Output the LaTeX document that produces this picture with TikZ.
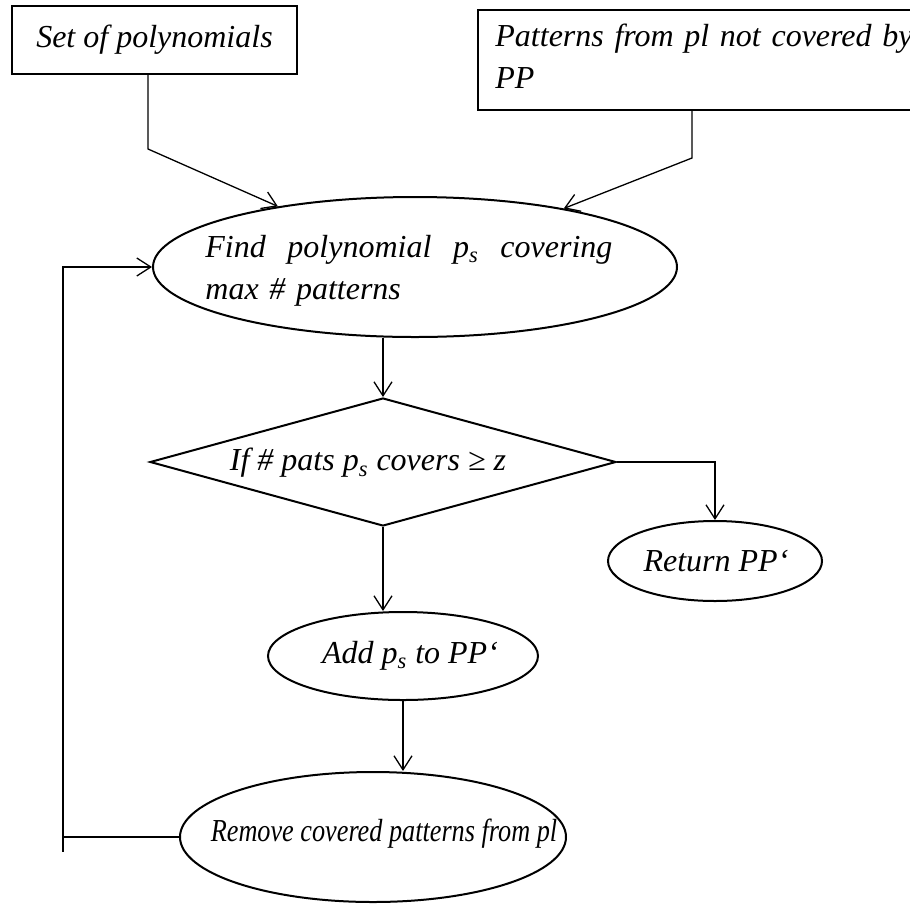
\documentclass[tikz,border=0pt]{standalone}
\usepackage{graphicx}
\usepackage{fontspec}
\setmainfont{Liberation Serif}
\usetikzlibrary{arrows.meta,shapes.geometric}
\begin{document}
\begin{tikzpicture}[x=0.5pt,y=-0.5pt,
  txt/.style={font=\itshape\fontsize{16}{21}\selectfont, inner sep=0pt},
  boxsh/.style={draw, line width=1pt, rectangle, inner sep=0pt},
  ellsh/.style={draw, line width=1pt, ellipse, inner sep=0pt},
  decsh/.style={draw, line width=1pt, diamond, inner sep=0pt},
  conn/.style={line width=0.65pt},
  arr/.style={conn, -{Straight Barb[length=7pt,width=9pt,line width=0.65pt]}}]
\useasboundingbox (0,0) rectangle (910,906);
\clip (0,0) rectangle (910,906);

% input boxes
\node[boxsh, minimum width=142.5pt, minimum height=34pt] (setp) at (154.5,40) {};
\node[txt] (setpt) at (154.5,40) {Set of polynomials};
\node[boxsh, minimum width=218.5pt, minimum height=50pt] (patt) at (696.5,60) {};
\node[txt, anchor=west, text width=215pt, align=left] (pattt) at (495,56)
  {Patterns from pl not covered by\\PP};

% search step
\node[ellsh, minimum width=262pt, minimum height=70pt] (find) at (415,267) {};
\node[txt, anchor=west, text width=203.5pt, align=left] (findt) at (205,271)
  {Find\hfill polynomial\hfill p\textsubscript{s}\hfill covering\\max \# patterns};

% decision
\node[decsh, minimum width=233pt, minimum height=64pt] (dec) at (383,462) {};
\node[txt] (dect) at (368,463) {If \# pats p\textsubscript{s} covers ≥ z};

% outcomes
\node[ellsh, minimum width=107pt, minimum height=40pt] (ret) at (715,561) {};
\node[txt] (rett) at (716,561) {Return PP‘};
\node[ellsh, minimum width=135pt, minimum height=44pt] (add) at (403,656) {};
\node[txt] (addt) at (410,656) {Add p\textsubscript{s} to PP‘};
\node[ellsh, minimum width=193pt, minimum height=65pt] (rem) at (373,837) {};
\node[txt] (remt) at (384,834) {\scalebox{0.82}[1]{Remove covered patterns from pl}};

% connectors
\coordinate (k1) at (148,149);
\coordinate (k2) at (692,158);
\draw[arr] (setp.south -| k1) -- (k1) -- (find);
\draw[arr] (patt.south -| k2) -- (k2) -- (find);
\draw[arr] (find.south -| dec.north) -- (dec.north);
\draw[arr] (dec.east) -| (ret.north);
\draw[arr] (dec.south) -- (dec.south |- add.north);
\draw[arr] (add.south) -- (add.south |- rem.north);

% loop back
\coordinate (lp) at (63,267);
\coordinate (lpb) at (63,852);
\draw[arr] (rem.west) -| (lp) -- (find.west);
\draw[conn] (rem.west -| lpb) -- (lpb);
\end{tikzpicture}
\end{document}
